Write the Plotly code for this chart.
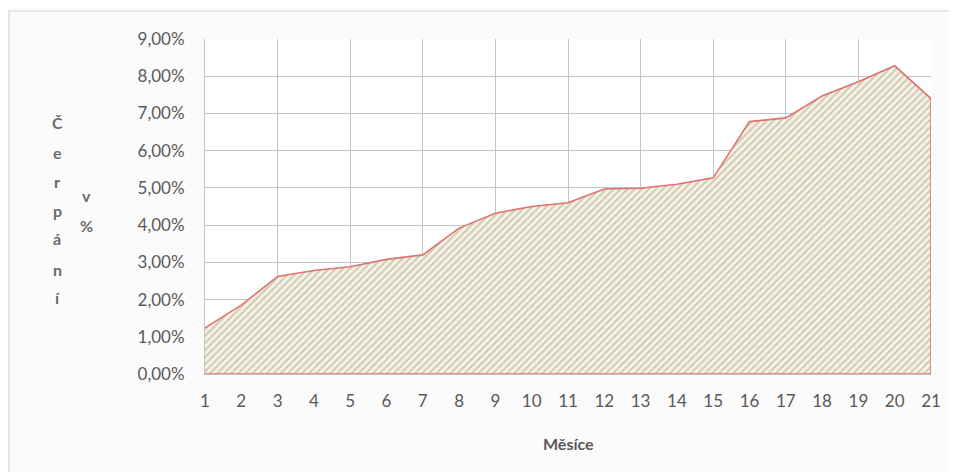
import plotly.graph_objects as go

# ---- data ----
months = list(range(1, 22))
cerpani_pct = [1.24, 1.85, 2.62, 2.78, 2.88, 3.08, 3.20, 3.92, 4.32, 4.50, 4.60,
               4.97, 4.99, 5.10, 5.27, 6.78, 6.88, 7.47, 7.85, 8.28, 7.40]
y_tick_vals = [i / 100 for i in range(0, 10)]
x_title = "Měsíce"
y_title_col1 = "Čerpání"
y_title_col2 = "v %"

PAGE_OFF = 8            # default body margin of the html page
W, H = 957 - PAGE_OFF, 472 - PAGE_OFF
L, R, T, B = 205, 931, 39, 374  # plot area in page pixels


def px_x(x):
    return (x - L) / (R - L)


def px_y(y):
    return (B - y) / (B - T)


vals = [v / 100 for v in cerpani_pct]

fig = go.Figure()

# area polygon (closed down to the axis)
fig.add_trace(go.Scatter(
    x=months + [months[-1], months[0]],
    y=vals + [0, 0],
    mode="lines",
    fill="toself",
    line=dict(color="#e36f6f", width=1.6),
    fillpattern=dict(shape="/", fgcolor="#aba67f", bgcolor="#f5f3e8",
                     size=5, solidity=0.42),
    hoverinfo="skip",
    showlegend=False,
))

# invisible trace for the secondary x axis (vertical gridlines every 2 months)
fig.add_trace(go.Scatter(x=[months[0], months[-1]], y=[0, 0], xaxis="x2",
                         mode="lines", line=dict(width=0), opacity=0,
                         hoverinfo="skip", showlegend=False))

font_main = "Lato, 'Open Sans', sans-serif"
grid_c = "#c3c3cb"

fig.update_layout(
    width=W, height=H,
    margin=dict(l=L - PAGE_OFF, r=957 - R, t=T - PAGE_OFF, b=472 - B),
    paper_bgcolor="#fbfbfb",
    plot_bgcolor="#ffffff",
    separators=", ",
    font=dict(family=font_main, size=17, color="#595959"),
    xaxis=dict(
        range=[months[0], months[-1]],
        tickmode="array", tickvals=months, ticktext=[str(m) for m in months],
        showgrid=False, zeroline=False,
        showline=True, linecolor=grid_c, linewidth=1,
        ticks="", ticklabelstandoff=12,
        tickfont=dict(size=17, color="#595959"),
    ),
    xaxis2=dict(
        overlaying="x", range=[months[0], months[-1]],
        tickmode="linear", tick0=1, dtick=2,
        showgrid=True, gridcolor=grid_c, gridwidth=1,
        showticklabels=False, zeroline=False, ticks="",
    ),
    yaxis=dict(
        range=[0, 0.09], tickmode="array", tickvals=y_tick_vals,
        tickformat=".2%",
        showgrid=True, gridcolor=grid_c, gridwidth=1,
        zeroline=False, showline=True, linecolor=grid_c, linewidth=1,
        ticks="", ticklabelstandoff=16,
        tickfont=dict(size=17, color="#595959"),
    ),
)

# outer chart frame
fig.add_shape(type="rect", xref="paper", yref="paper",
              x0=px_x(9), x1=px_x(985), y0=px_y(500), y1=px_y(11),
              line=dict(color="#d4d4d4", width=1.2), fillcolor="rgba(0,0,0,0)",
              layer="below")

# x title
fig.add_annotation(text="<b>" + x_title + "</b>", xref="paper", yref="paper",
                   x=0.5, y=px_y(443), showarrow=False,
                   font=dict(size=16, color="#595959", family=font_main),
                   xanchor="center", yanchor="middle")

# stacked y title letters
col1_y = [122, 152, 181, 210, 239, 269, 297]
for ch, yy in zip(y_title_col1, col1_y):
    fig.add_annotation(text="<b>" + ch + "</b>", xref="paper", yref="paper",
                       x=px_x(57), y=px_y(yy), showarrow=False,
                       font=dict(size=16, color="#6b6b6b", family=font_main),
                       xanchor="center", yanchor="middle")
col2_y = [195, 225]
for ch, yy in zip(y_title_col2.split(" "), col2_y):
    fig.add_annotation(text="<b>" + ch + "</b>", xref="paper", yref="paper",
                       x=px_x(86), y=px_y(yy), showarrow=False,
                       font=dict(size=16, color="#6b6b6b", family=font_main),
                       xanchor="center", yanchor="middle")

fig.write_html("out.html")
